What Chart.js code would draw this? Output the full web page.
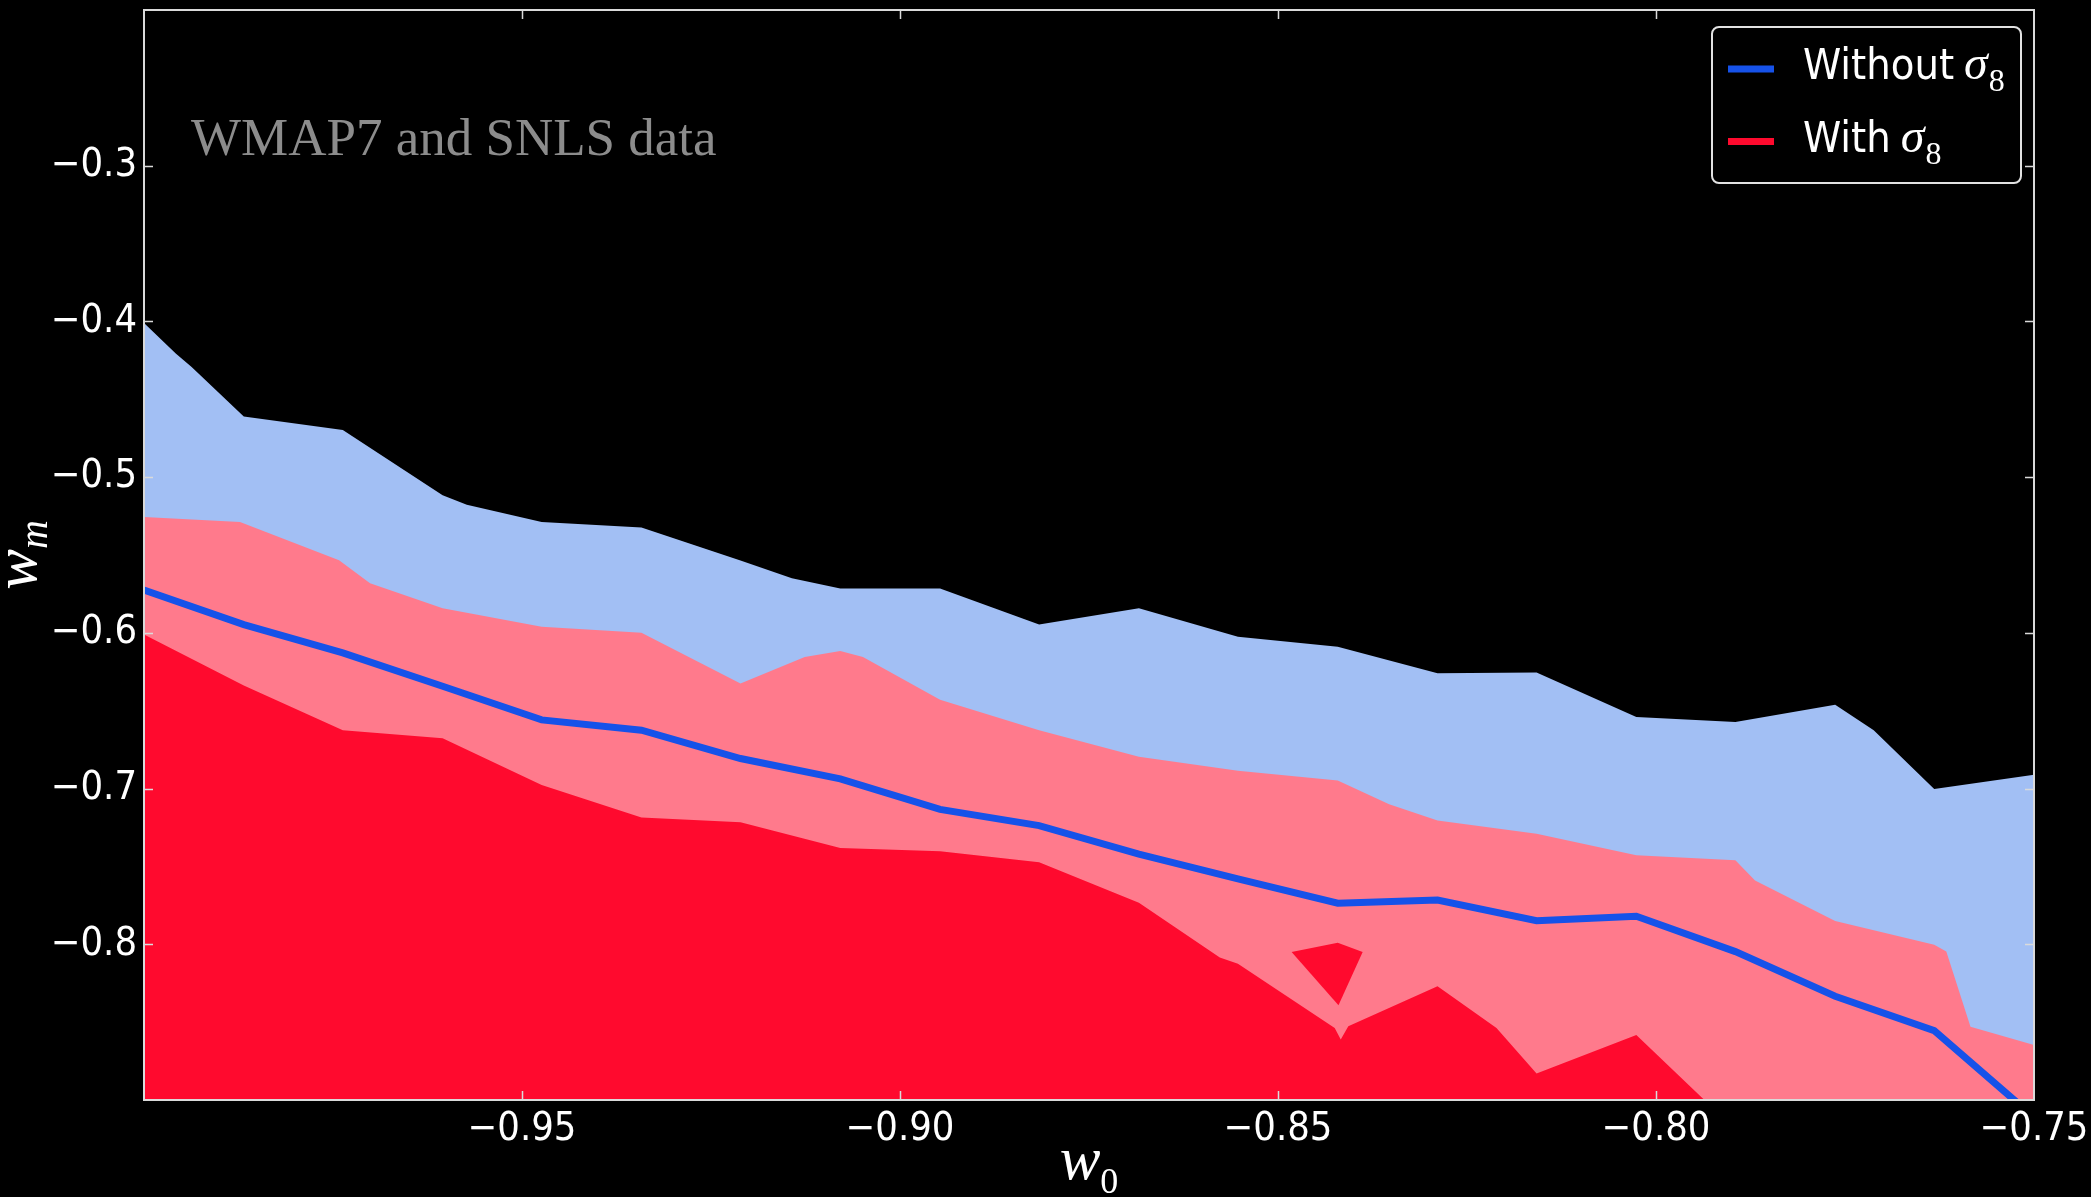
<!DOCTYPE html>
<html>
<head>
<meta charset="utf-8">
<title>w0 – wm constraints</title>
<script src="https://cdn.jsdelivr.net/npm/chart.js@4.4.1/dist/chart.umd.min.js"></script>
<style>
  html, body { margin: 0; padding: 0; background: #000; }
  canvas { display: block; }
</style>
</head>
<body>
<canvas id="chart" width="2091" height="1197"></canvas>
<script>
// ---- data -------------------------------------------------------------
// w0 grid on which the best-fit curve is evaluated
const w0Grid = [-1.0, -0.9868, -0.9737, -0.9605, -0.9474, -0.9342, -0.9211, -0.9079, -0.8947, -0.8816,
                -0.8684, -0.8553, -0.8421, -0.8289, -0.8158, -0.8026, -0.7895, -0.7763, -0.7632, -0.75];
// best-fit wm without sigma_8
const fitWithoutSigma8 = [-0.5725, -0.5947, -0.6129, -0.6343, -0.6559, -0.6625, -0.6807, -0.6938, -0.7134, -0.7238,
                          -0.7421, -0.7580, -0.7736, -0.7716, -0.7849, -0.7820, -0.8047, -0.8334, -0.8555, -0.911];

// upper edge of the allowed region without sigma_8
const withoutEdgeW0 = [-1.0, -0.9958, -0.9937, -0.9868, -0.9737, -0.9605, -0.9573, -0.9474, -0.9342, -0.9211,
                       -0.9143, -0.9079, -0.8947, -0.8816, -0.8684, -0.8553, -0.8421, -0.8289, -0.8158, -0.8026,
                       -0.7895, -0.7763, -0.7712, -0.7632, -0.75];
const withoutEdgeWm = [-0.401, -0.4206, -0.4292, -0.4611, -0.4697, -0.5116, -0.5177, -0.5288, -0.5324, -0.5535,
                       -0.5649, -0.5715, -0.5715, -0.5947, -0.5842, -0.6025, -0.6090, -0.6259, -0.6254, -0.6541,
                       -0.6573, -0.6461, -0.6625, -0.7003, -0.6912];

// upper edge of the outer region with sigma_8
const withOuterW0 = [-1.0, -0.9873, -0.9742, -0.9701, -0.9605, -0.9474, -0.9342, -0.9211, -0.9126, -0.9079,
                     -0.9049, -0.8947, -0.8816, -0.8684, -0.8553, -0.8421, -0.8353, -0.8289, -0.8158, -0.8026,
                     -0.7895, -0.7869, -0.7763, -0.7632, -0.7616, -0.7584, -0.75];
const withOuterWm = [-0.5256, -0.5288, -0.5533, -0.5681, -0.5842, -0.5960, -0.6000, -0.6325, -0.6155, -0.6116,
                     -0.6155, -0.6429, -0.6625, -0.6795, -0.6886, -0.6948, -0.7100, -0.7205, -0.7290, -0.7428,
                     -0.7460, -0.7590, -0.7851, -0.8003, -0.8047, -0.8529, -0.8647];

// upper edge of the inner region with sigma_8
const withInnerW0 = [-1.0, -0.9868, -0.9737, -0.9605, -0.9474, -0.9342, -0.9211, -0.9079, -0.8947, -0.8816,
                     -0.8684, -0.8577, -0.8553, -0.8425, -0.8417, -0.8407, -0.8289, -0.8211, -0.8158, -0.8026,
                     -0.7936];
const withInnerWm = [-0.601, -0.6338, -0.6625, -0.6677, -0.6977, -0.7186, -0.7216, -0.7382, -0.7403, -0.7473,
                     -0.7734, -0.8085, -0.8125, -0.8537, -0.8612, -0.8527, -0.8270, -0.8537, -0.8830, -0.8582,
                     -0.9];

// small detached patch of the inner region (closed outline)
const islandW0 = [-0.8482, -0.8421, -0.8388, -0.8420, -0.8482];
const islandWm = [-0.8050, -0.7990, -0.8050, -0.8392, -0.8050];

// axis ticks
const xTicks = [-1.0, -0.95, -0.90, -0.85, -0.80, -0.75];
const yTicks = [-0.9, -0.8, -0.7, -0.6, -0.5, -0.4, -0.3, -0.2];

// legend entries
const legendNames = ['Without', 'With'];
const legendSymbol = 'σ';
const legendSub = '8';
const annotation = 'WMAP7 and SNLS data';

// ---- styling ----------------------------------------------------------
const BLUE_LINE = '#1652e9';
const LIGHT_BLUE = '#a2bff4';
const PINK = '#ff7a8c';
const RED = '#ff0a2e';
const FRAME = '#dadada';

const pts = (xs, ys) => xs.map((x, i) => ({ x, y: ys[i] }));

// prefer the condensed DejaVu face when it is installed
function isCondensedAvailable() {
  const c = document.createElement('canvas').getContext('2d');
  c.font = "100px 'DejaVu Sans'";
  const regular = c.measureText('Without 0.95').width;
  c.font = "100px 'DejaVu Sans Condensed', 'DejaVu Sans'";
  const cond = c.measureText('Without 0.95').width;
  return cond < regular * 0.95;
}
const condensed = isCondensedAvailable();
const SANS = condensed ? "'DejaVu Sans Condensed', 'DejaVu Sans'" : "'DejaVu Sans'";
const tickSize = condensed ? 39.5 : 35.5;
const legendSize = condensed ? 43 : 38.5;

const minusFmt = (v, d) => (v < 0 ? '\u2212' : '') + Math.abs(v).toFixed(d);
const near = (a, b) => Math.abs(a - b) < 1e-9;

const decor = {
  id: 'decor',
  beforeDraw(chart) {
    const ctx = chart.ctx;
    ctx.save();
    ctx.fillStyle = '#000';
    ctx.fillRect(0, 0, chart.width, chart.height);
    ctx.restore();
  },
  afterDatasetsDraw(chart) {
    const { ctx, chartArea: a, scales } = chart;
    ctx.save();
    ctx.strokeStyle = FRAME;
    ctx.lineWidth = 2;
    ctx.strokeRect(a.left, a.top, a.right - a.left, a.bottom - a.top);
    ctx.lineWidth = 1.5;
    const len = 9;
    ctx.beginPath();
    xTicks.forEach(v => {
      if (near(v, scales.x.min) || near(v, scales.x.max)) return;
      const px = Math.round(scales.x.getPixelForValue(v)) + 0.5;
      ctx.moveTo(px, a.bottom); ctx.lineTo(px, a.bottom - len);
      ctx.moveTo(px, a.top); ctx.lineTo(px, a.top + len);
    });
    yTicks.forEach(v => {
      if (near(v, scales.y.min) || near(v, scales.y.max)) return;
      const py = Math.round(scales.y.getPixelForValue(v)) + 0.5;
      ctx.moveTo(a.left, py); ctx.lineTo(a.left + len, py);
      ctx.moveTo(a.right, py); ctx.lineTo(a.right - len, py);
    });
    ctx.stroke();
    ctx.restore();
  },
  afterDraw(chart) {
    const { ctx, chartArea: a } = chart;
    ctx.save();
    ctx.textBaseline = 'alphabetic';
    ctx.textAlign = 'left';

    // annotation inside the plot
    ctx.fillStyle = '#8c8c8c';
    ctx.font = "53px 'Liberation Serif'";
    ctx.fillText(annotation, a.left + 47, 155);

    // x axis title: w_0
    ctx.fillStyle = '#fff';
    const cx = (a.left + a.right) / 2;
    ctx.font = "italic 61px 'Liberation Serif'";
    const ww = ctx.measureText('w').width;
    ctx.font = "36px 'Liberation Serif'";
    const zw = ctx.measureText('0').width;
    const startX = cx - (ww + zw) / 2;
    ctx.font = "italic 61px 'Liberation Serif'";
    ctx.fillText('w', startX, 1179);
    ctx.font = "36px 'Liberation Serif'";
    ctx.fillText('0', startX + ww, 1193);

    // y axis title: w_m (rotated)
    const cy = (a.top + a.bottom) / 2;
    ctx.save();
    ctx.translate(36, cy);
    ctx.rotate(-Math.PI / 2);
    ctx.font = "italic 61px 'Liberation Serif'";
    const yw = ctx.measureText('w').width;
    ctx.font = "italic 40px 'Liberation Serif'";
    const mw = ctx.measureText('m').width;
    const sx = -(yw + mw) / 2;
    ctx.font = "italic 61px 'Liberation Serif'";
    ctx.fillText('w', sx, 0);
    ctx.font = "italic 40px 'Liberation Serif'";
    ctx.fillText('m', sx + yw, 11);
    ctx.restore();

    // legend
    const lx = 1712, ly = 27, lw = 309, lh = 156;
    ctx.beginPath();
    ctx.roundRect(lx, ly, lw, lh, 7);
    ctx.fillStyle = '#000';
    ctx.fill();
    ctx.strokeStyle = '#e2e2e2';
    ctx.lineWidth = 2;
    ctx.stroke();
    const swatchColors = [chart.data.datasets[0].borderColor, chart.data.datasets[2].backgroundColor];
    legendNames.forEach((name, i) => {
      const rowY = 69 + i * 72.5;
      ctx.strokeStyle = swatchColors[i];
      ctx.lineWidth = 7;
      ctx.beginPath();
      ctx.moveTo(1728, rowY);
      ctx.lineTo(1774, rowY);
      ctx.stroke();
      ctx.fillStyle = '#fff';
      ctx.font = legendSize + 'px ' + SANS;
      ctx.fillText(name, 1803, rowY + 10);
      const tw = ctx.measureText(name).width;
      ctx.font = "italic 48px 'Liberation Serif'";
      ctx.fillText(legendSymbol, 1803 + tw + 10, rowY + 10);
      const sw = ctx.measureText(legendSymbol).width;
      ctx.font = "32px 'Liberation Serif'";
      ctx.fillText(legendSub, 1803 + tw + 10 + sw + 1, rowY + 22);
    });
    ctx.restore();
  }
};

const fillStyle = color => ({
  backgroundColor: color,
  borderColor: 'rgba(0,0,0,0)',
  borderWidth: 0,
  pointRadius: 0,
  tension: 0,
  clip: 0
});

new Chart(document.getElementById('chart'), {
  type: 'line',
  data: {
    datasets: [
      {
        label: 'Without σ8',
        data: pts(w0Grid, fitWithoutSigma8),
        borderColor: BLUE_LINE,
        borderWidth: 7,
        pointRadius: 0,
        tension: 0,
        fill: false,
        clip: 0
      },
      Object.assign({ label: 'With σ8 (patch)', data: pts(islandW0, islandWm), fill: 'shape' }, fillStyle(RED)),
      Object.assign({ label: 'With σ8', data: pts(withInnerW0, withInnerWm), fill: 'start' }, fillStyle(RED)),
      Object.assign({ label: 'With σ8 (outer)', data: pts(withOuterW0, withOuterWm), fill: 'start' }, fillStyle(PINK)),
      Object.assign({ label: 'Without σ8 (region)', data: pts(withoutEdgeW0, withoutEdgeWm), fill: 'start' }, fillStyle(LIGHT_BLUE))
    ]
  },
  options: {
    responsive: false,
    animation: false,
    devicePixelRatio: 1,
    events: [],
    layout: { padding: { top: 10, right: 57, bottom: 0, left: 0 } },
    plugins: {
      legend: { display: false },
      tooltip: { enabled: false },
      title: { display: false }
    },
    scales: {
      x: {
        type: 'linear',
        min: -1.0,
        max: -0.75,
        grid: { display: false, drawTicks: false },
        border: { display: false },
        afterBuildTicks: s => { s.ticks = xTicks.map(v => ({ value: v })); },
        ticks: {
          color: '#fff',
          font: { family: SANS, size: tickSize },
          padding: 6,
          maxRotation: 0,
          autoSkip: false,
          callback: v => near(v, -1.0) ? '' : minusFmt(v, 2)
        },
        afterFit: s => { s.height = 97; s.paddingLeft = 0; s.paddingRight = 0; }
      },
      y: {
        type: 'linear',
        min: -0.9,
        max: -0.2,
        grid: { display: false, drawTicks: false },
        border: { display: false },
        afterBuildTicks: s => { s.ticks = yTicks.map(v => ({ value: v })); },
        ticks: {
          color: '#fff',
          font: { family: SANS, size: tickSize },
          padding: 7,
          autoSkip: false,
          callback: v => (near(v, -0.2) || near(v, -0.9)) ? '' : minusFmt(v, 1)
        },
        afterFit: s => { s.width = 144; s.paddingTop = 0; s.paddingBottom = 0; }
      }
    }
  },
  plugins: [decor]
});
</script>
</body>
</html>
